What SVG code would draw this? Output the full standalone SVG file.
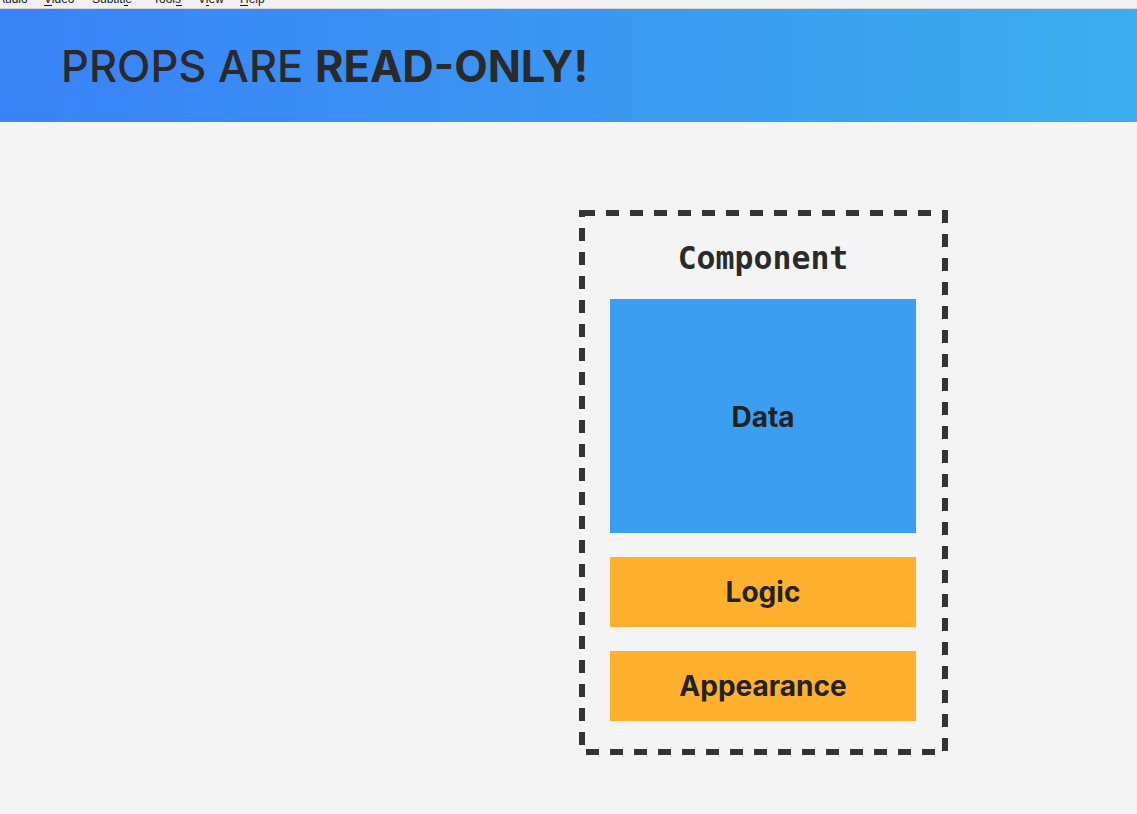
<svg xmlns="http://www.w3.org/2000/svg" width="1137" height="814" viewBox="0 0 1137 814">
  <defs>
    <linearGradient id="headerFill" x1="0" y1="0" x2="1" y2="0">
      <stop offset="0" stop-color="#3a82f7"/>
      <stop offset="0.5" stop-color="#3a96f2"/>
      <stop offset="1" stop-color="#3caeec"/>
    </linearGradient>
    <clipPath id="menuClip">
      <rect x="0" y="0" width="1137" height="8"/>
    </clipPath>
    <style>
      .menu { font-family: "Liberation Sans", Arial, sans-serif; font-size: 12px; fill: #1a1a1a; }
      .title { font-family: Inter, "Liberation Sans", sans-serif; font-size: 43.5px; font-weight: 500; fill: #2a2a2a; }
      .label { font-family: Inter, "Liberation Sans", sans-serif; font-size: 28px; font-weight: 700; fill: #222222; text-anchor: middle; }
      .mono { font-family: "DejaVu Sans Mono", "Liberation Mono", monospace; font-size: 31.5px; font-weight: 700; fill: #2a2a2a; text-anchor: middle; }
      .frame { fill: none; stroke: #333333; stroke-width: 6; stroke-dasharray: 13 11; }
      .data { fill: #3b9ef0; }
      .part { fill: #ffb02e; }
    </style>
  </defs>

  <!-- page background -->
  <rect x="0" y="0" width="1137" height="814" fill="#f4f4f4"/>

  <!-- window menu strip -->
  <g id="menubar">
    <rect x="0" y="0" width="1137" height="8" fill="#f0f0f0"/>
    <line x1="0" y1="8.5" x2="1137" y2="8.5" stroke="#d6d6d6" stroke-width="1"/>
    <g clip-path="url(#menuClip)" class="menu">
      <text x="-3" y="3">Audio</text>
      <text x="44" y="3">Video</text>
      <text x="92" y="3">Subtitle</text>
      <text x="153" y="3">Tools</text>
      <text x="198" y="3">View</text>
      <text x="240" y="3">Help</text>
      <g stroke="#1a1a1a" stroke-width="1">
        <line x1="44" y1="5.5" x2="52" y2="5.5"/>
        <line x1="124" y1="5.5" x2="128" y2="5.5"/>
        <line x1="176" y1="5.5" x2="182" y2="5.5"/>
        <line x1="206" y1="5.5" x2="209" y2="5.5"/>
        <line x1="240" y1="5.5" x2="248" y2="5.5"/>
      </g>
    </g>
  </g>

  <!-- header band -->
  <g id="header">
    <rect x="0" y="9" width="1137" height="113" fill="url(#headerFill)"/>
    <text class="title" x="61" y="82">PROPS ARE <tspan font-weight="700">READ-ONLY!</tspan></text>
  </g>

  <!-- component container -->
  <g id="component">
    <rect class="frame" x="582" y="213" width="363" height="539"/>
    <text class="mono" x="763" y="269">Component</text>
  </g>

  <g id="data">
    <rect class="data" x="610" y="299" width="306" height="234"/>
    <text class="label" x="763" y="427">Data</text>
  </g>

  <g id="logic">
    <rect class="part" x="610" y="557" width="306" height="70"/>
    <text class="label" x="763" y="602">Logic</text>
  </g>

  <g id="appearance">
    <rect class="part" x="610" y="651" width="306" height="70"/>
    <text class="label" x="763" y="696">Appearance</text>
  </g>

  <g id="connectors"/>
</svg>
